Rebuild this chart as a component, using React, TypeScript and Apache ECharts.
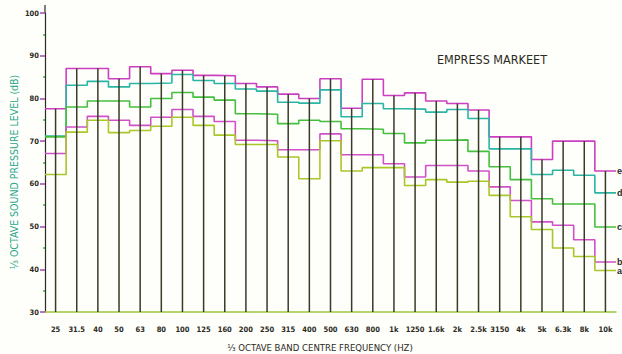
import React, { useEffect, useRef } from "react";
import * as echarts from "echarts";

const bands = ["25","31.5","40","50","63","80","100","125","160","200","250","315","400","500","630","800","1k","1250","1.6k","2k","2.5k","3150","4k","5k","6.3k","8k","10k"];

const seriesE = [77.6, 87.0, 87.0, 84.6, 87.4, 85.8, 86.6, 85.4, 85.3, 83.5, 82.7, 81.0, 80.0, 84.6, 77.7, 84.5, 80.7, 81.3, 79.4, 78.8, 77.3, 71.0, 71.0, 65.7, 70.0, 70.0, 63.0];
const seriesD = [71.2, 83.1, 84.0, 82.7, 83.5, 83.6, 85.6, 84.2, 83.5, 82.2, 81.7, 79.1, 78.9, 82.0, 75.7, 78.8, 77.6, 77.5, 76.8, 77.4, 75.3, 68.2, 68.2, 62.2, 63.2, 62.0, 57.9];
const seriesC = [71.0, 78.0, 79.4, 79.4, 78.0, 80.0, 81.4, 80.3, 79.6, 76.4, 76.3, 74.1, 74.9, 74.6, 72.9, 72.8, 71.8, 69.6, 70.2, 70.3, 67.6, 64.0, 61.0, 56.5, 55.3, 55.3, 49.9];
const seriesB = [67.1, 73.3, 75.8, 74.9, 73.7, 75.6, 77.4, 75.8, 74.6, 70.2, 70.1, 68.0, 68.0, 71.7, 66.8, 66.8, 64.7, 61.6, 64.3, 64.3, 63.0, 59.3, 56.1, 51.1, 50.3, 46.9, 41.7];
const seriesA = [62.2, 72.1, 74.9, 72.0, 72.5, 73.5, 75.6, 73.7, 71.4, 69.2, 69.2, 66.3, 61.2, 70.1, 63.0, 63.8, 63.8, 59.6, 61.0, 60.4, 60.6, 57.3, 52.3, 49.3, 45.0, 43.0, 39.7];

const yTicks = [30, 40, 50, 60, 70, 80, 90, 100];

const seriesDefs = [
  { name: "e", data: seriesE, color: "#cc3fc0" },
  { name: "d", data: seriesD, color: "#2bb5a5" },
  { name: "c", data: seriesC, color: "#45c03c" },
  { name: "b", data: seriesB, color: "#d050c8" },
  { name: "a", data: seriesA, color: "#a8c828" },
];

function stepData(vals: number[]) {
  const pts: number[][] = vals.map((v, i) => [i, v]);
  pts.push([vals.length, vals[vals.length - 1]]);
  return pts;
}

const FONT = "DejaVu Sans Condensed, DejaVu Sans, sans-serif";

export default function App() {
  const ref = useRef<HTMLDivElement>(null);
  useEffect(() => {
    if (!ref.current) return;
    const chart = echarts.init(ref.current, null, { renderer: "svg" });
    const maxes = bands.map((_, i) => Math.max(...seriesDefs.map((s) => s.data[i])));
    const option: any = {
      animation: false,
      backgroundColor: "#fefefb",
      grid: { left: 45, right: 6, top: 13, bottom: 42 },
      xAxis: [
        { type: "value", min: 0, max: bands.length, show: false },
        {
          type: "category",
          data: bands,
          boundaryGap: true,
          position: "bottom",
          axisLine: { show: true, lineStyle: { color: "#9cc83a", width: 1.5 } },
          axisTick: { show: false },
          axisLabel: { interval: 0, fontSize: 7.5, fontWeight: "bold", color: "#2a2a22", margin: 13, fontFamily: FONT },
          splitLine: { show: false },
        },
      ],
      yAxis: {
        type: "value",
        min: yTicks[0],
        max: yTicks[yTicks.length - 1],
        interval: 10,
        axisLine: { show: true, lineStyle: { color: "#2a2a22", width: 1.2 } },
        axisTick: { show: true, length: 5, lineStyle: { color: "#b040b0", width: 1.5 } },
        minorTick: { show: true, splitNumber: 2, length: 2, lineStyle: { color: "#40b040", width: 1.5 } },
        axisLabel: { fontSize: 7.5, fontWeight: "bold", color: "#2a2a22", margin: 6, fontFamily: FONT },
        splitLine: { show: false },
      },
      graphic: [
        {
          type: "line",
          shape: { x1: 45, y1: 5, x2: 45, y2: 13 },
          style: { stroke: "#2a2a22", lineWidth: 1.2 },
        },
        {
          type: "text",
          left: 437,
          top: 53,
          style: { text: "EMPRESS MARKEET", fontSize: 12.5, fill: "#2a2a22", fontFamily: FONT },
        },
        {
          type: "text",
          x: 14,
          y: 172,
          rotation: Math.PI / 2,
          style: {
            text: "⅓ OCTAVE SOUND PRESSURE LEVEL (dB)",
            fontSize: 10.5,
            fill: "#2aa88a",
            align: "center",
            verticalAlign: "middle",
            fontFamily: FONT,
          },
        },
        {
          type: "text",
          x: 320,
          y: 347,
          style: {
            text: "⅓ OCTAVE BAND CENTRE FREQUENCY (HZ)",
            fontSize: 9.5,
            fill: "#2a2a22",
            align: "center",
            verticalAlign: "middle",
            fontFamily: FONT,
          },
        },
      ],
      series: [
        ...seriesDefs.map((s) => ({
          name: s.name,
          type: "line",
          xAxisIndex: 0,
          step: "end",
          data: stepData(s.data),
          symbol: "none",
          lineStyle: { color: s.color, width: 1.6 },
          z: 2,
          endLabel: {
            show: true,
            formatter: "{a}",
            fontSize: 9,
            fontWeight: "bold",
            color: "#2a2a22",
            distance: 1,
          },
        })),
        {
          name: "bands",
          type: "bar",
          xAxisIndex: 1,
          data: maxes,
          barWidth: 1.5,
          clip: true,
          itemStyle: { color: "#3a3a28" },
          z: 3,
        },
      ],
    };
    chart.setOption(option);
    return () => chart.dispose();
  }, []);
  return <div ref={ref} style={{ position: "fixed", left: 0, top: 0, width: 622, height: 354 }} />;
}
